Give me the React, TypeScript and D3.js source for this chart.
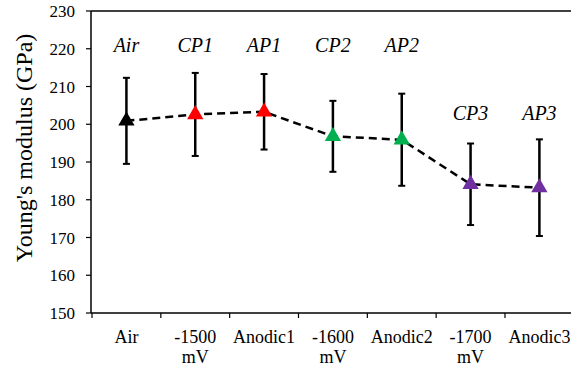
import * as d3 from 'd3'

const categories = ['Air', '-1500 mV', 'Anodic1', '-1600 mV', 'Anodic2', '-1700 mV', 'Anodic3'];
const pointLabels = ['Air', 'CP1', 'AP1', 'CP2', 'AP2', 'CP3', 'AP3'];
const modulus = [200.9, 202.6, 203.3, 196.8, 195.9, 184.1, 183.2];
const errors = [11.4, 11.0, 10.0, 9.4, 12.2, 10.8, 12.8];
const colors = ['#000000', '#ff0000', '#ff0000', '#00b050', '#00b050', '#7030a0', '#7030a0'];
// label rows, in GPa units on the y scale
const labelLevel = [219.2, 219.2, 219.2, 219.2, 219.2, 201, 201];
const yTicks = [150, 160, 170, 180, 190, 200, 210, 220, 230];

const fam = "'Times New Roman', 'Liberation Serif', serif";

const width = 571, height = 370;
const left = 91, top = 11, bottom = 313;

const x = d3.scaleBand<string>()
    .domain(categories)
    .range([92, 92 + 7 * 68.83])
    .paddingInner(0)
    .paddingOuter(0);

const y = d3.scaleLinear()
    .domain([150, 230])
    .range([bottom, top]);

const cx = (i: number) => (x(categories[i]) ?? 0) + x.bandwidth() / 2;

const line = d3.line<number>()
    .x((_, i) => cx(i))
    .y(d => y(d));

const tri = d3.symbol().type(d3.symbolTriangle).size(115);

const App = () => (
    <div style={{ position: 'absolute', left: 0, top: 0, fontFamily: fam }}>
        <svg width={width} height={height} style={{ display: 'block', fontFamily: fam }}>
            {/* y axis */}
            <line x1={left} x2={left} y1={top} y2={bottom} stroke="#000" strokeWidth={1.5} />
            {yTicks.map(t => (
                <line key={'t' + t} x1={left - 5} x2={left} y1={y(t)} y2={y(t)} stroke="#000" strokeWidth={1.2} />
            ))}
            {yTicks.map(t => (
                <text key={t} x={left - 16} y={y(t) + 6} textAnchor="end" style={{ fontFamily: fam, fontSize: '17px' }}>{t}</text>
            ))}
            {/* frame top and x axis */}
            <line x1={left} x2={width} y1={top} y2={top} stroke="#000" strokeWidth={1.5} />
            <line x1={left} x2={width} y1={bottom} y2={bottom} stroke="#000" strokeWidth={1.5} />
            {categories.map(c => (
                <line key={c} x1={x(c)} x2={x(c)} y1={bottom} y2={bottom + 5} stroke="#000" strokeWidth={1.2} />
            ))}
            {categories.map((c, i) => (
                <text key={c} x={cx(i)} y={343} textAnchor="middle" style={{ fontFamily: fam, fontSize: '18px' }}>
                    {c.split(' ').map((p, j) => (
                        <tspan key={j} x={cx(i)} dy={j === 0 ? 0 : 20}>{p}</tspan>
                    ))}
                </text>
            ))}
            {/* axis title */}
            <text transform={`translate(32,${(top + bottom) / 2 - 14}) rotate(-90)`} textAnchor="middle"
                style={{ fontFamily: fam, fontSize: '24px' }}>Young's modulus (GPa)</text>
            {/* error bars */}
            {modulus.map((m, i) => (
                <g key={i}>
                    <line x1={cx(i)} x2={cx(i)} y1={y(m - errors[i])} y2={y(m + errors[i])} stroke="#000" strokeWidth={2.5} />
                    <line x1={cx(i) - 3.5} x2={cx(i) + 3.5} y1={y(m - errors[i])} y2={y(m - errors[i])} stroke="#000" strokeWidth={2} />
                    <line x1={cx(i) - 3.5} x2={cx(i) + 3.5} y1={y(m + errors[i])} y2={y(m + errors[i])} stroke="#000" strokeWidth={2} />
                </g>
            ))}
            {/* dashed line */}
            <path d={line(modulus) ?? ''} fill="none" stroke="#000" strokeWidth={2.5} strokeDasharray="8,5" />
            {/* triangles */}
            {modulus.map((m, i) => (
                <path key={i} transform={`translate(${cx(i)},${y(m)})`} d={tri() ?? ''} fill={colors[i]} />
            ))}
            {/* italic labels */}
            {pointLabels.map((l, i) => (
                <text key={l} x={cx(i)} y={y(labelLevel[i])} textAnchor="middle"
                    style={{ fontFamily: fam, fontSize: '20px', fontStyle: 'italic' }}>{l}</text>
            ))}
        </svg>
    </div>
);

export default App;
